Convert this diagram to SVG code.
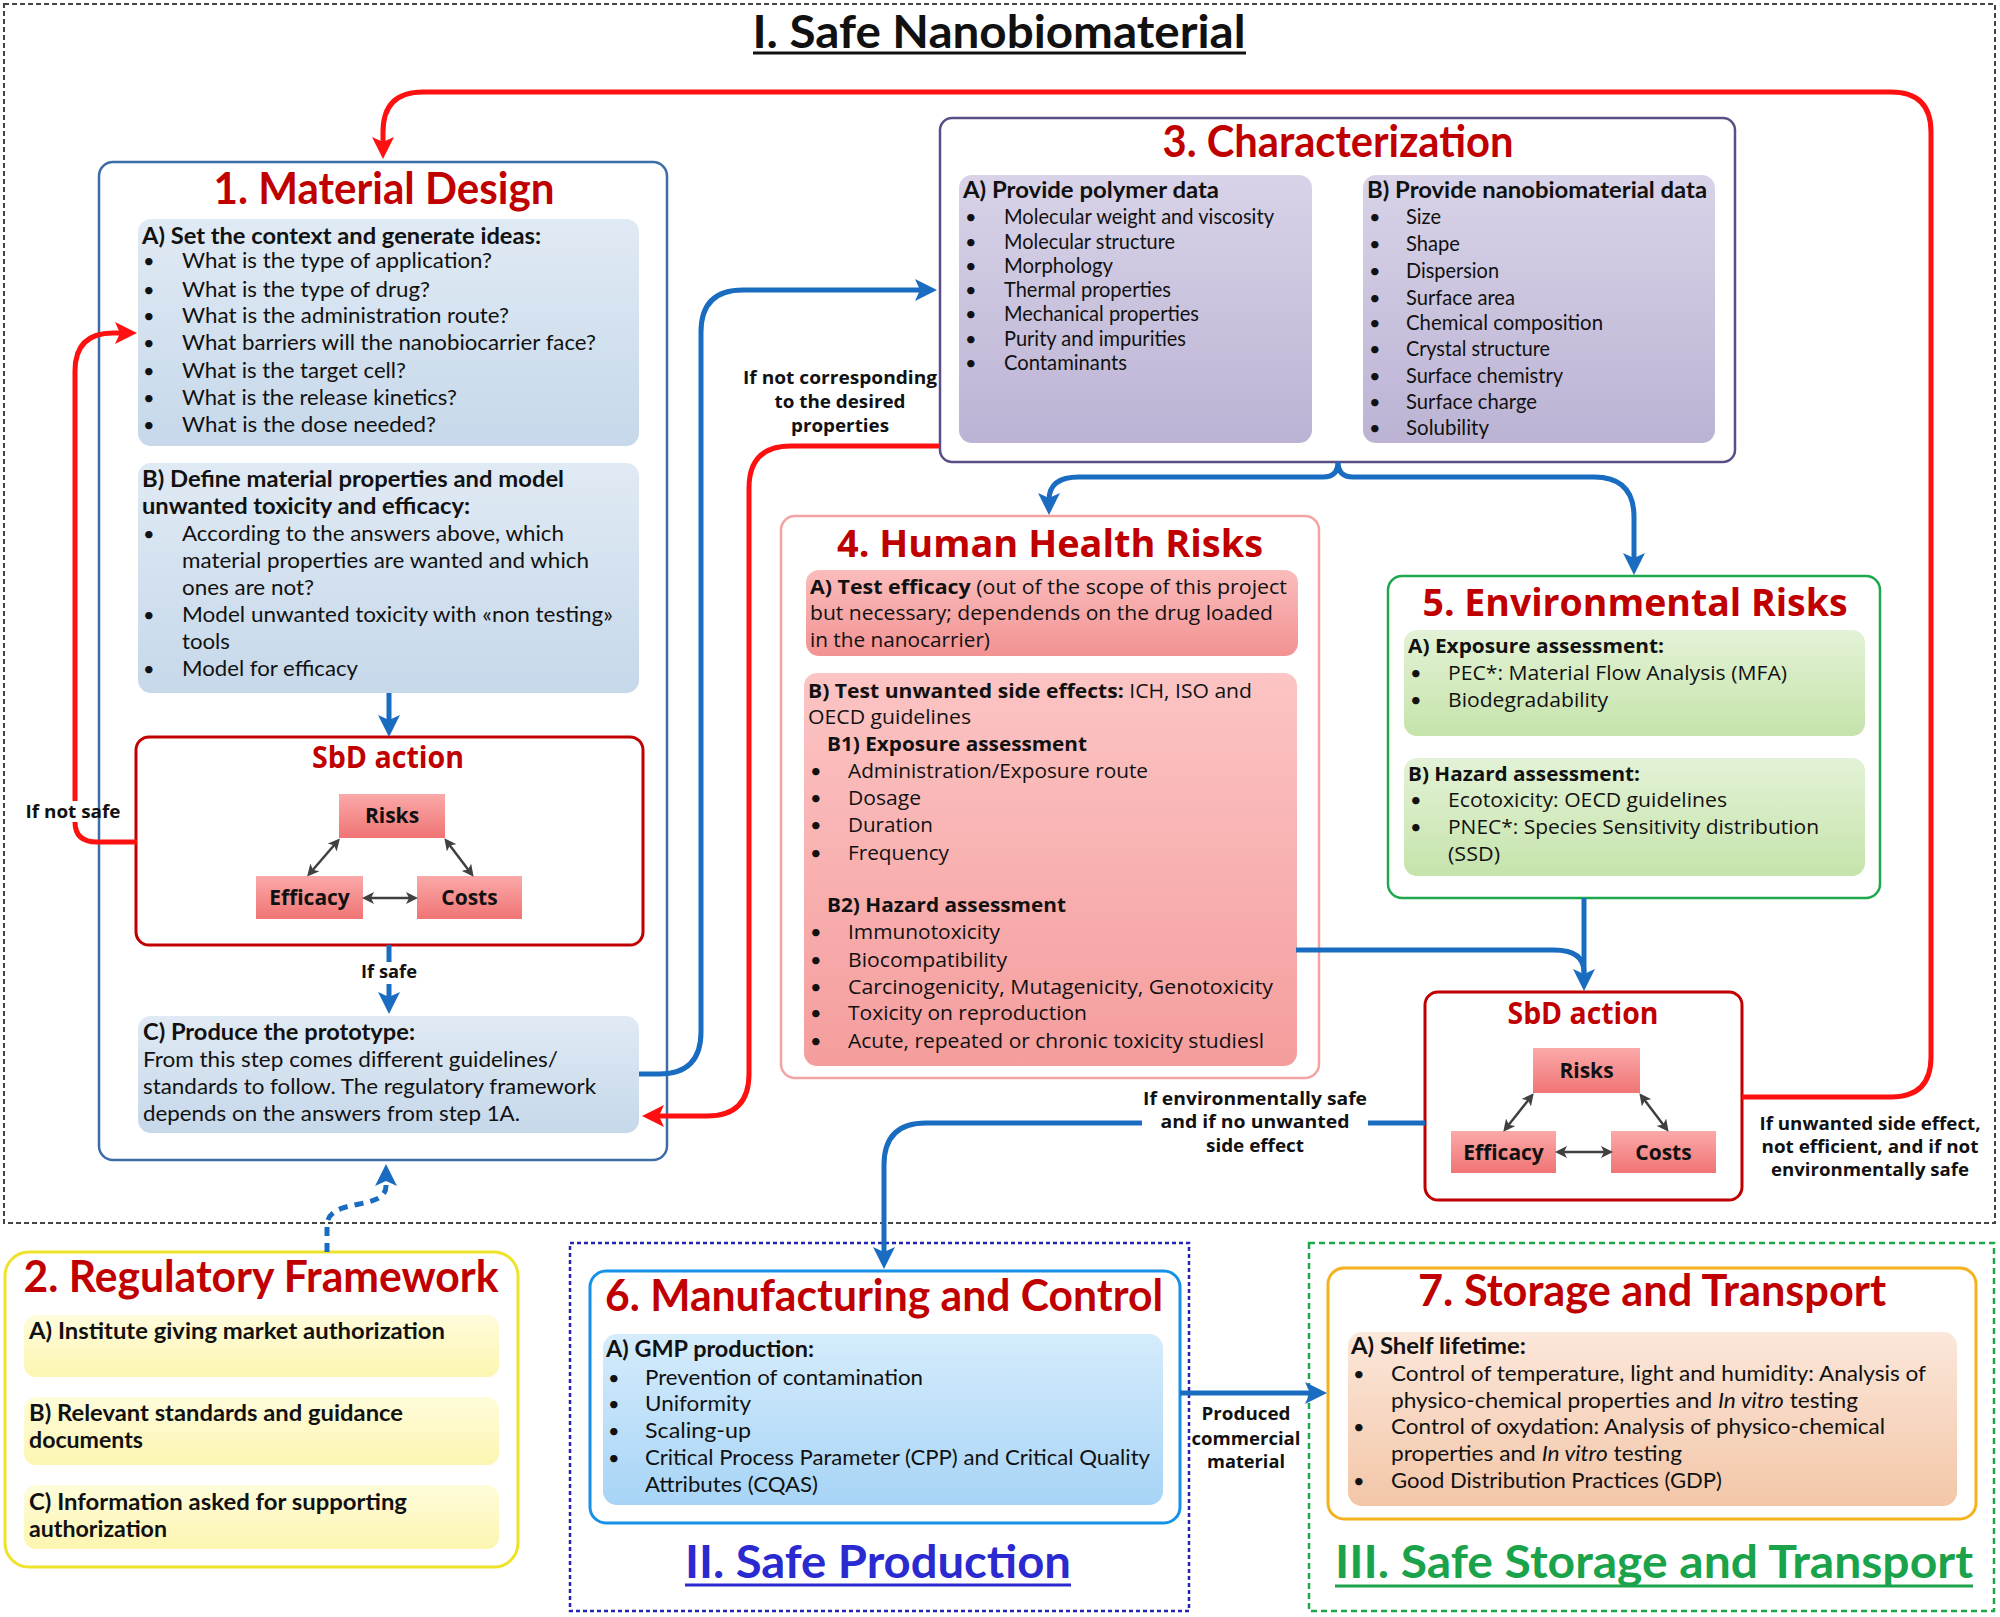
<svg xmlns="http://www.w3.org/2000/svg" width="2000" height="1617" viewBox="0 0 2000 1617">
<style>
text{font-family:Lato,"Liberation Sans",sans-serif;fill:#111}
.h{font-weight:700;fill:#c00000;font-size:44px;text-anchor:middle}
.h4{font-family:"Open Sans","DejaVu Sans",sans-serif;font-weight:700;fill:#c00000;font-size:38px;text-anchor:middle}
.sbd{font-family:"Open Sans","DejaVu Sans",sans-serif;font-weight:700;fill:#c00000;font-size:30px;text-anchor:middle}
.t{font-size:22px}
.tb{font-size:22px;font-weight:700}
.s{font-family:"Open Sans","DejaVu Sans",sans-serif;font-size:20px}
.sb{font-family:"Open Sans","DejaVu Sans",sans-serif;font-size:20px;font-weight:700}
.bu{font-size:20px}
.lab{font-family:"Open Sans","DejaVu Sans",sans-serif;font-size:17px;font-weight:700;text-anchor:middle}
.rc{font-family:"Open Sans","DejaVu Sans",sans-serif;font-size:21px;font-weight:700;text-anchor:middle}
.ti{font-weight:700;font-size:46px;text-anchor:middle}
.blue{fill:none;stroke:#1a6cc0;stroke-width:5}
.red{fill:none;stroke:#ff1010;stroke-width:5}
.dbl{fill:none;stroke:#404040;stroke-width:2.5}
</style>
<defs>
<linearGradient id="gB" x1="0" y1="0" x2="0" y2="1"><stop offset="0" stop-color="#e0eaf4"/><stop offset="1" stop-color="#c6d8ea"/></linearGradient>
<linearGradient id="gP" x1="0" y1="0" x2="0" y2="1"><stop offset="0" stop-color="#d8d3e8"/><stop offset="1" stop-color="#bcb3d4"/></linearGradient>
<linearGradient id="gR" x1="0" y1="0" x2="0" y2="1"><stop offset="0" stop-color="#fcc4c4"/><stop offset="1" stop-color="#f59d9d"/></linearGradient>
<linearGradient id="gR2" x1="0" y1="0" x2="0" y2="1"><stop offset="0" stop-color="#fbbcbc"/><stop offset="1" stop-color="#f29292"/></linearGradient>
<linearGradient id="gG" x1="0" y1="0" x2="0" y2="1"><stop offset="0" stop-color="#e3f2d6"/><stop offset="1" stop-color="#c6e3ab"/></linearGradient>
<linearGradient id="gY" x1="0" y1="0" x2="0" y2="1"><stop offset="0" stop-color="#fffcdc"/><stop offset="1" stop-color="#fcf5b0"/></linearGradient>
<linearGradient id="gS" x1="0" y1="0" x2="0" y2="1"><stop offset="0" stop-color="#d5ecfc"/><stop offset="1" stop-color="#a7d4f6"/></linearGradient>
<linearGradient id="gO" x1="0" y1="0" x2="0" y2="1"><stop offset="0" stop-color="#fbe7da"/><stop offset="1" stop-color="#f3c6a8"/></linearGradient>
<linearGradient id="gK" x1="0" y1="0" x2="0" y2="1"><stop offset="0" stop-color="#fba9a9"/><stop offset="1" stop-color="#f07474"/></linearGradient>
<marker id="aB" viewBox="0 0 22 22" refX="12" refY="11" markerWidth="22" markerHeight="22" markerUnits="userSpaceOnUse" orient="auto"><path d="M0,0 L22,11 L0,22 L5,11 z" fill="#1a6cc0"/></marker>
<marker id="aR" viewBox="0 0 22 22" refX="12" refY="11" markerWidth="22" markerHeight="22" markerUnits="userSpaceOnUse" orient="auto"><path d="M0,0 L22,11 L0,22 L5,11 z" fill="#ff1010"/></marker>
<marker id="aG" viewBox="0 0 12 12" refX="6" refY="6" markerWidth="12" markerHeight="12" markerUnits="userSpaceOnUse" orient="auto-start-reverse"><path d="M0,0 L12,6 L0,12 L3,6 z" fill="#404040"/></marker>
</defs>
<rect width="2000" height="1617" fill="#fff"/>

<!-- Section frames -->
<g id="frame-I">
<rect x="4" y="4" width="1991" height="1219" fill="none" stroke="#444" stroke-width="2" stroke-dasharray="5,3"/>
<text class="ti" x="999" y="48" textLength="493" lengthAdjust="spacingAndGlyphs">I. Safe Nanobiomaterial</text>
<line x1="753" y1="53" x2="1246" y2="53" stroke="#111" stroke-width="3"/>
</g>
<g id="frame-II">
<rect x="570" y="1243" width="619" height="368" fill="none" stroke="#2424b8" stroke-width="2.5" stroke-dasharray="4,3"/>
<text class="ti" x="878" y="1578" style="fill:#2a2ad0" textLength="386" lengthAdjust="spacingAndGlyphs">II. Safe Production</text>
<line x1="685" y1="1585" x2="1071" y2="1585" stroke="#2a2ad0" stroke-width="3"/>
</g>
<g id="frame-III">
<rect x="1309" y="1243" width="685" height="368" fill="none" stroke="#1fa64a" stroke-width="2.5" stroke-dasharray="6,4"/>
<text class="ti" x="1654" y="1578" style="fill:#1aa34a" textLength="638" lengthAdjust="spacingAndGlyphs">III. Safe Storage and Transport</text>
<line x1="1335" y1="1586" x2="1973" y2="1586" stroke="#1aa34a" stroke-width="3"/>
</g>

<!-- Node 1 -->
<g id="n1-material-design">
<rect x="99" y="162" width="568" height="998" rx="14" fill="#fff" stroke="#3b6da6" stroke-width="2.5"/>
<text class="h" x="384" y="204" textLength="341" lengthAdjust="spacingAndGlyphs">1. Material Design</text>
<rect x="138" y="219" width="501" height="227" rx="13" fill="url(#gB)"/>
<text class="tb" x="142" y="244" textLength="399" lengthAdjust="spacingAndGlyphs">A) Set the context and generate ideas:</text>
<g class="bu"><text class="bu" x="143" y="268">•</text><text class="bu" x="143" y="297">•</text><text class="bu" x="143" y="323">•</text><text class="bu" x="143" y="350">•</text><text class="bu" x="143" y="378">•</text><text class="bu" x="143" y="405">•</text><text class="bu" x="143" y="432">•</text></g>
<text class="t" x="182" y="268" textLength="310" lengthAdjust="spacingAndGlyphs">What is the type of application?</text>
<text class="t" x="182" y="297" textLength="248" lengthAdjust="spacingAndGlyphs">What is the type of drug?</text>
<text class="t" x="182" y="323" textLength="327" lengthAdjust="spacingAndGlyphs">What is the administration route?</text>
<text class="t" x="182" y="350" textLength="414" lengthAdjust="spacingAndGlyphs">What barriers will the nanobiocarrier face?</text>
<text class="t" x="182" y="378" textLength="224" lengthAdjust="spacingAndGlyphs">What is the target cell?</text>
<text class="t" x="182" y="405" textLength="275" lengthAdjust="spacingAndGlyphs">What is the release kinetics?</text>
<text class="t" x="182" y="432" textLength="254" lengthAdjust="spacingAndGlyphs">What is the dose needed?</text>

<rect x="138" y="463" width="501" height="230" rx="13" fill="url(#gB)"/>
<text class="tb" x="142" y="487" textLength="422" lengthAdjust="spacingAndGlyphs">B) Define material properties and model</text>
<text class="tb" x="142" y="514" textLength="328" lengthAdjust="spacingAndGlyphs">unwanted toxicity and efficacy:</text>
<text class="bu" x="143" y="541">•</text><text class="bu" x="143" y="622">•</text><text class="bu" x="143" y="676">•</text>
<text class="t" x="182" y="541" textLength="382" lengthAdjust="spacingAndGlyphs">According to the answers above, which</text>
<text class="t" x="182" y="568" textLength="407" lengthAdjust="spacingAndGlyphs">material properties are wanted and which</text>
<text class="t" x="182" y="595" textLength="132" lengthAdjust="spacingAndGlyphs">ones are not?</text>
<text class="t" x="182" y="622" textLength="431" lengthAdjust="spacingAndGlyphs">Model unwanted toxicity with «non testing»</text>
<text class="t" x="182" y="649" textLength="48" lengthAdjust="spacingAndGlyphs">tools</text>
<text class="t" x="182" y="676" textLength="176" lengthAdjust="spacingAndGlyphs">Model for efficacy</text>

<rect x="138" y="1016" width="501" height="117" rx="13" fill="url(#gB)"/>
<text class="tb" x="143" y="1040" textLength="272" lengthAdjust="spacingAndGlyphs">C) Produce the prototype:</text>
<text class="t" x="143" y="1067" textLength="415" lengthAdjust="spacingAndGlyphs">From this step comes different guidelines/</text>
<text class="t" x="143" y="1094" textLength="453" lengthAdjust="spacingAndGlyphs">standards to follow. The regulatory framework</text>
<text class="t" x="143" y="1121" textLength="377" lengthAdjust="spacingAndGlyphs">depends on the answers from step 1A.</text>
</g>

<!-- SbD action left -->
<g id="sbd-1">
<rect x="136" y="737" width="507" height="208" rx="13" fill="#fff" stroke="#c00000" stroke-width="3"/>
<text class="sbd" x="388" y="768" textLength="152" lengthAdjust="spacingAndGlyphs">SbD action</text>
<g id="sbd-1-risks"><rect x="339" y="794" width="106" height="44" fill="url(#gK)"/><text class="rc" x="392" y="823">Risks</text></g>
<g id="sbd-1-efficacy"><rect x="256" y="876" width="107" height="43" fill="url(#gK)"/><text class="rc" x="309.5" y="905">Efficacy</text></g>
<g id="sbd-1-costs"><rect x="417" y="876" width="105" height="43" fill="url(#gK)"/><text class="rc" x="469.5" y="905">Costs</text></g>
<path class="dbl" d="M336,843 L311,872" marker-start="url(#aG)" marker-end="url(#aG)"/>
<path class="dbl" d="M448,843 L470,872" marker-start="url(#aG)" marker-end="url(#aG)"/>
<path class="dbl" d="M368,898 L412,898" marker-start="url(#aG)" marker-end="url(#aG)"/>
</g>

<!-- Node 3 -->
<g id="n3-characterization">
<rect x="940" y="118" width="795" height="344" rx="12" fill="#fff" stroke="#5b4e86" stroke-width="2.5"/>
<text class="h" x="1338" y="157" font-size="42" textLength="351" lengthAdjust="spacingAndGlyphs">3. Characterization</text>
<rect x="959" y="175" width="353" height="268" rx="13" fill="url(#gP)"/>
<text class="tb" x="963" y="198" textLength="256" lengthAdjust="spacingAndGlyphs">A) Provide polymer data</text>
<text class="bu" x="965" y="224">•</text><text class="bu" x="965" y="249">•</text><text class="bu" x="965" y="273">•</text><text class="bu" x="965" y="297">•</text><text class="bu" x="965" y="321">•</text><text class="bu" x="965" y="346">•</text><text class="bu" x="965" y="370">•</text>
<text class="t" x="1004" y="224" textLength="270" lengthAdjust="spacingAndGlyphs">Molecular weight and viscosity</text>
<text class="t" x="1004" y="249" textLength="171" lengthAdjust="spacingAndGlyphs">Molecular structure</text>
<text class="t" x="1004" y="273" textLength="109" lengthAdjust="spacingAndGlyphs">Morphology</text>
<text class="t" x="1004" y="297" textLength="167" lengthAdjust="spacingAndGlyphs">Thermal properties</text>
<text class="t" x="1004" y="321" textLength="195" lengthAdjust="spacingAndGlyphs">Mechanical properties</text>
<text class="t" x="1004" y="346" textLength="182" lengthAdjust="spacingAndGlyphs">Purity and impurities</text>
<text class="t" x="1004" y="370" textLength="123" lengthAdjust="spacingAndGlyphs">Contaminants</text>
<rect x="1363" y="175" width="352" height="268" rx="13" fill="url(#gP)"/>
<text class="tb" x="1367" y="198" textLength="340" lengthAdjust="spacingAndGlyphs">B) Provide nanobiomaterial data</text>
<text class="bu" x="1369" y="224">•</text><text class="bu" x="1369" y="251">•</text><text class="bu" x="1369" y="278">•</text><text class="bu" x="1369" y="305">•</text><text class="bu" x="1369" y="330">•</text><text class="bu" x="1369" y="356">•</text><text class="bu" x="1369" y="383">•</text><text class="bu" x="1369" y="409">•</text><text class="bu" x="1369" y="435">•</text>
<text class="t" x="1406" y="224" textLength="35" lengthAdjust="spacingAndGlyphs">Size</text>
<text class="t" x="1406" y="251" textLength="54" lengthAdjust="spacingAndGlyphs">Shape</text>
<text class="t" x="1406" y="278" textLength="93" lengthAdjust="spacingAndGlyphs">Dispersion</text>
<text class="t" x="1406" y="305" textLength="109" lengthAdjust="spacingAndGlyphs">Surface area</text>
<text class="t" x="1406" y="330" textLength="197" lengthAdjust="spacingAndGlyphs">Chemical composition</text>
<text class="t" x="1406" y="356" textLength="144" lengthAdjust="spacingAndGlyphs">Crystal structure</text>
<text class="t" x="1406" y="383" textLength="157" lengthAdjust="spacingAndGlyphs">Surface chemistry</text>
<text class="t" x="1406" y="409" textLength="131" lengthAdjust="spacingAndGlyphs">Surface charge</text>
<text class="t" x="1406" y="435" textLength="83" lengthAdjust="spacingAndGlyphs">Solubility</text>
</g>

<!-- Node 4 -->
<g id="n4-human-health">
<rect x="781" y="516" width="538" height="562" rx="14" fill="#fff" stroke="#f4a3a3" stroke-width="2.5"/>
<text class="h4" x="1050" y="557" textLength="426" lengthAdjust="spacingAndGlyphs">4. Human Health Risks</text>
<rect x="806" y="570" width="492" height="86" rx="13" fill="url(#gR2)"/>
<text class="s" x="810" y="594" textLength="477" lengthAdjust="spacingAndGlyphs"><tspan font-weight="700">A) Test efficacy</tspan> (out of the scope of this project</text>
<text class="s" x="810" y="620" textLength="463" lengthAdjust="spacingAndGlyphs">but necessary; dependends on the drug loaded</text>
<text class="s" x="810" y="647" textLength="180" lengthAdjust="spacingAndGlyphs">in the nanocarrier)</text>
<rect x="804" y="673" width="493" height="393" rx="13" fill="url(#gR)"/>
<text class="s" x="808" y="698" textLength="444" lengthAdjust="spacingAndGlyphs"><tspan font-weight="700">B) Test unwanted side effects:</tspan> ICH, ISO and</text>
<text class="s" x="808" y="724" textLength="163" lengthAdjust="spacingAndGlyphs">OECD guidelines</text>
<text class="sb" x="827" y="751" textLength="260" lengthAdjust="spacingAndGlyphs">B1) Exposure assessment</text>
<text class="bu" x="810" y="778">•</text><text class="bu" x="810" y="805">•</text><text class="bu" x="810" y="832">•</text><text class="bu" x="810" y="860">•</text>
<text class="s" x="848" y="778" textLength="300" lengthAdjust="spacingAndGlyphs">Administration/Exposure route</text>
<text class="s" x="848" y="805" textLength="73" lengthAdjust="spacingAndGlyphs">Dosage</text>
<text class="s" x="848" y="832" textLength="85" lengthAdjust="spacingAndGlyphs">Duration</text>
<text class="s" x="848" y="860" textLength="101" lengthAdjust="spacingAndGlyphs">Frequency</text>
<text class="sb" x="827" y="912" textLength="239" lengthAdjust="spacingAndGlyphs">B2) Hazard assessment</text>
<text class="bu" x="810" y="939">•</text><text class="bu" x="810" y="967">•</text><text class="bu" x="810" y="994">•</text><text class="bu" x="810" y="1020">•</text><text class="bu" x="810" y="1048">•</text>
<text class="s" x="848" y="939" textLength="152" lengthAdjust="spacingAndGlyphs">Immunotoxicity</text>
<text class="s" x="848" y="967" textLength="159" lengthAdjust="spacingAndGlyphs">Biocompatibility</text>
<text class="s" x="848" y="994" textLength="425" lengthAdjust="spacingAndGlyphs">Carcinogenicity, Mutagenicity, Genotoxicity</text>
<text class="s" x="848" y="1020" textLength="239" lengthAdjust="spacingAndGlyphs">Toxicity on reproduction</text>
<text class="s" x="848" y="1048" textLength="416" lengthAdjust="spacingAndGlyphs">Acute, repeated or chronic toxicity studiesl</text>
</g>

<!-- Node 5 -->
<g id="n5-environmental">
<rect x="1388" y="576" width="492" height="322" rx="14" fill="#fff" stroke="#1ea84e" stroke-width="2.5"/>
<text class="h4" x="1635" y="616" textLength="425" lengthAdjust="spacingAndGlyphs">5. Environmental Risks</text>
<rect x="1404" y="630" width="461" height="106" rx="13" fill="url(#gG)"/>
<text class="sb" x="1408" y="653" textLength="256" lengthAdjust="spacingAndGlyphs">A) Exposure assessment:</text>
<text class="bu" x="1410" y="680">•</text><text class="bu" x="1410" y="707">•</text>
<text class="s" x="1448" y="680" textLength="339" lengthAdjust="spacingAndGlyphs">PEC*: Material Flow Analysis (MFA)</text>
<text class="s" x="1448" y="707" textLength="160" lengthAdjust="spacingAndGlyphs">Biodegradability</text>
<rect x="1404" y="758" width="461" height="118" rx="13" fill="url(#gG)"/>
<text class="sb" x="1408" y="781" textLength="232" lengthAdjust="spacingAndGlyphs">B) Hazard assessment:</text>
<text class="bu" x="1410" y="807">•</text><text class="bu" x="1410" y="834">•</text>
<text class="s" x="1448" y="807" textLength="279" lengthAdjust="spacingAndGlyphs">Ecotoxicity: OECD guidelines</text>
<text class="s" x="1448" y="834" textLength="371" lengthAdjust="spacingAndGlyphs">PNEC*: Species Sensitivity distribution</text>
<text class="s" x="1448" y="861" textLength="52" lengthAdjust="spacingAndGlyphs">(SSD)</text>
</g>

<!-- SbD action right -->
<g id="sbd-2">
<rect x="1425" y="992" width="317" height="208" rx="13" fill="#fff" stroke="#c00000" stroke-width="3"/>
<text class="sbd" x="1583" y="1024" textLength="151" lengthAdjust="spacingAndGlyphs">SbD action</text>
<g id="sbd-2-risks"><rect x="1533" y="1048" width="107" height="45" fill="url(#gK)"/><text class="rc" x="1586.5" y="1078">Risks</text></g>
<g id="sbd-2-efficacy"><rect x="1451" y="1131" width="105" height="42" fill="url(#gK)"/><text class="rc" x="1503.5" y="1160">Efficacy</text></g>
<g id="sbd-2-costs"><rect x="1611" y="1131" width="105" height="42" fill="url(#gK)"/><text class="rc" x="1663.5" y="1160">Costs</text></g>
<path class="dbl" d="M1530,1098 L1507,1127" marker-start="url(#aG)" marker-end="url(#aG)"/>
<path class="dbl" d="M1643,1098 L1665,1127" marker-start="url(#aG)" marker-end="url(#aG)"/>
<path class="dbl" d="M1561,1152 L1607,1152" marker-start="url(#aG)" marker-end="url(#aG)"/>
</g>

<!-- Node 2 -->
<g id="n2-regulatory">
<rect x="5" y="1252" width="513" height="315" rx="24" fill="#fff" stroke="#eee22a" stroke-width="3"/>
<text class="h" x="261" y="1292" textLength="475" lengthAdjust="spacingAndGlyphs">2. Regulatory Framework</text>
<rect x="24" y="1315" width="475" height="62" rx="12" fill="url(#gY)"/>
<text class="tb" x="29" y="1339" textLength="416" lengthAdjust="spacingAndGlyphs">A) Institute giving market authorization</text>
<rect x="24" y="1397" width="475" height="68" rx="12" fill="url(#gY)"/>
<text class="tb" x="29" y="1421" textLength="374" lengthAdjust="spacingAndGlyphs">B) Relevant standards and guidance</text>
<text class="tb" x="29" y="1448" textLength="114" lengthAdjust="spacingAndGlyphs">documents</text>
<rect x="24" y="1485" width="475" height="64" rx="12" fill="url(#gY)"/>
<text class="tb" x="29" y="1510" textLength="378" lengthAdjust="spacingAndGlyphs">C) Information asked for supporting</text>
<text class="tb" x="29" y="1537" textLength="138" lengthAdjust="spacingAndGlyphs">authorization</text>
</g>

<!-- Node 6 -->
<g id="n6-manufacturing">
<rect x="590" y="1271" width="590" height="252" rx="16" fill="#fff" stroke="#1591e8" stroke-width="3"/>
<text class="h" x="884" y="1311" textLength="558" lengthAdjust="spacingAndGlyphs">6. Manufacturing and Control</text>
<rect x="603" y="1334" width="560" height="171" rx="14" fill="url(#gS)"/>
<text class="tb" x="606" y="1357" textLength="208" lengthAdjust="spacingAndGlyphs">A) GMP production:</text>
<text class="bu" x="608" y="1385">•</text><text class="bu" x="608" y="1411">•</text><text class="bu" x="608" y="1438">•</text><text class="bu" x="608" y="1465">•</text>
<text class="t" x="645" y="1385" textLength="278" lengthAdjust="spacingAndGlyphs">Prevention of contamination</text>
<text class="t" x="645" y="1411" textLength="106" lengthAdjust="spacingAndGlyphs">Uniformity</text>
<text class="t" x="645" y="1438" textLength="106" lengthAdjust="spacingAndGlyphs">Scaling-up</text>
<text class="t" x="645" y="1465" textLength="505" lengthAdjust="spacingAndGlyphs">Critical Process Parameter (CPP) and Critical Quality</text>
<text class="t" x="645" y="1492" textLength="173" lengthAdjust="spacingAndGlyphs">Attributes (CQAS)</text>
</g>

<!-- Node 7 -->
<g id="n7-storage">
<rect x="1328" y="1268" width="648" height="251" rx="16" fill="#fff" stroke="#f3b21e" stroke-width="3"/>
<text class="h" x="1652" y="1306" textLength="468" lengthAdjust="spacingAndGlyphs">7. Storage and Transport</text>
<rect x="1348" y="1332" width="609" height="174" rx="14" fill="url(#gO)"/>
<text class="tb" x="1351" y="1354" textLength="175" lengthAdjust="spacingAndGlyphs">A) Shelf lifetime:</text>
<text class="bu" x="1353" y="1381">•</text><text class="bu" x="1353" y="1434">•</text><text class="bu" x="1353" y="1488">•</text>
<text class="t" x="1391" y="1381" textLength="535" lengthAdjust="spacingAndGlyphs">Control of temperature, light and humidity: Analysis of</text>
<text class="t" x="1391" y="1408" textLength="467" lengthAdjust="spacingAndGlyphs">physico-chemical properties and <tspan font-style="italic">In vitro</tspan> testing</text>
<text class="t" x="1391" y="1434" textLength="494" lengthAdjust="spacingAndGlyphs">Control of oxydation: Analysis of physico-chemical</text>
<text class="t" x="1391" y="1461" textLength="291" lengthAdjust="spacingAndGlyphs">properties and <tspan font-style="italic">In vitro</tspan> testing</text>
<text class="t" x="1391" y="1488" textLength="331" lengthAdjust="spacingAndGlyphs">Good Distribution Practices (GDP)</text>
</g>

<!-- Connectors -->
<g id="connectors">
<path class="red" d="M1742,1097 H1891 Q1931,1097 1931,1057 V132 Q1931,92 1891,92 H423 Q383,92 383,132 V149" marker-end="url(#aR)"/>
<path class="red" d="M137,842 H97 Q75,842 75,822 M75,801 V371 Q75,333 113,333 H127" marker-end="url(#aR)"/>
<path class="red" d="M940,446 H791 Q749,446 749,488 V1074 Q749,1116 707,1116 H652" marker-end="url(#aR)"/>
<path class="blue" d="M389,693 V727" marker-end="url(#aB)"/>
<path class="blue" d="M389,945 V962 M389,984 V1004" marker-end="url(#aB)"/>
<path class="blue" d="M639,1074 H659 Q701,1074 701,1032 V332 Q701,290 743,290 H927" marker-end="url(#aB)"/>
<path class="blue" d="M1338,462 Q1338,477 1323,477 H1079 Q1049,477 1049,500 V505" marker-end="url(#aB)"/>
<path class="blue" d="M1338,462 Q1338,477 1353,477 H1594 Q1634,477 1634,517 V565" marker-end="url(#aB)"/>
<path class="blue" d="M1296,950 H1554 Q1584,950 1584,972"/>
<path class="blue" d="M1584,898 V981" marker-end="url(#aB)"/>
<path class="blue" d="M1425,1123 H1368 M1142,1123 H926 Q884,1123 884,1165 V1259" marker-end="url(#aB)"/>
<path class="blue" d="M1180,1393 H1317" marker-end="url(#aB)"/>
<path class="blue" d="M327,1252 V1226 C327,1196 386,1212 386,1186 V1174" stroke-dasharray="9,7" marker-end="url(#aB)"/>
<text class="lab" x="73" y="818" textLength="95" lengthAdjust="spacingAndGlyphs">If not safe</text>
<text class="lab" x="389" y="978" textLength="56" lengthAdjust="spacingAndGlyphs">If safe</text>
<text class="lab" x="840" y="384" textLength="194" lengthAdjust="spacingAndGlyphs">If not corresponding</text>
<text class="lab" x="840" y="408" textLength="131" lengthAdjust="spacingAndGlyphs">to the desired</text>
<text class="lab" x="840" y="432" textLength="98" lengthAdjust="spacingAndGlyphs">properties</text>
<text class="lab" x="1255" y="1105" textLength="224" lengthAdjust="spacingAndGlyphs">If  environmentally safe</text>
<text class="lab" x="1255" y="1128" textLength="189" lengthAdjust="spacingAndGlyphs">and  if no unwanted</text>
<text class="lab" x="1255" y="1152" textLength="98" lengthAdjust="spacingAndGlyphs">side effect</text>
<text class="lab" x="1870" y="1130" textLength="221" lengthAdjust="spacingAndGlyphs">If unwanted side effect,</text>
<text class="lab" x="1870" y="1153" textLength="217" lengthAdjust="spacingAndGlyphs">not efficient, and if not</text>
<text class="lab" x="1870" y="1176" textLength="198" lengthAdjust="spacingAndGlyphs">environmentally safe</text>
<text class="lab" x="1246" y="1420" textLength="89" lengthAdjust="spacingAndGlyphs">Produced</text>
<text class="lab" x="1246" y="1445" textLength="109" lengthAdjust="spacingAndGlyphs">commercial</text>
<text class="lab" x="1246" y="1468" textLength="78" lengthAdjust="spacingAndGlyphs">material</text>
</g>
</svg>
